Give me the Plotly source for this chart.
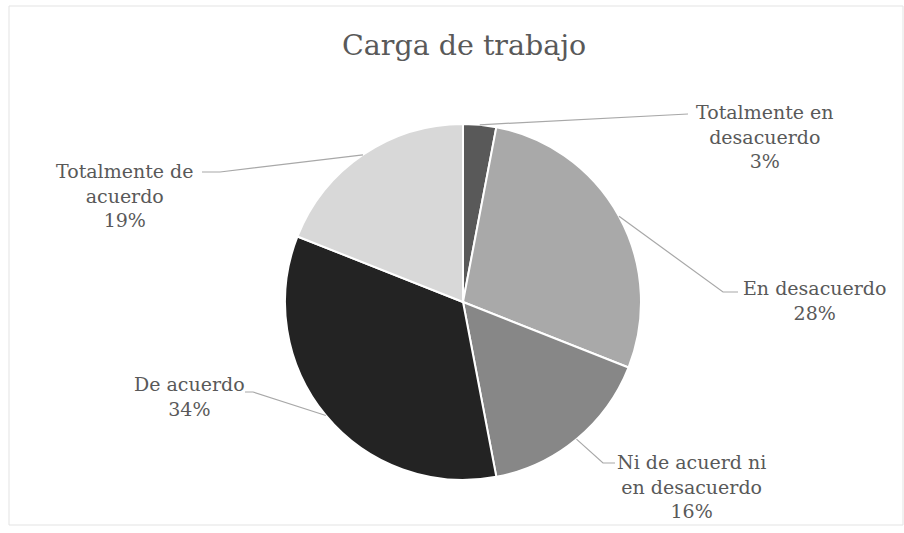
import math
import plotly.graph_objects as go

# Survey answers for "Carga de trabajo" (percent of respondents)
categories = [
    "Totalmente en desacuerdo",
    "En desacuerdo",
    "Ni de acuerd ni en desacuerdo",
    "De acuerdo",
    "Totalmente de acuerdo",
]
values = [3, 28, 16, 34, 19]
label_lines = [
    "Totalmente en<br>desacuerdo",
    "En desacuerdo",
    "Ni de acuerd ni<br>en desacuerdo",
    "De acuerdo",
    "Totalmente de<br>acuerdo",
]
slice_colors = ["#595959", "#a9a9a9", "#878787", "#232323", "#d8d8d8"]

W, H = 904, 533
CX, CY, R = 463, 302, 178  # pie centre and radius in pixels

FONT = "DejaVu Serif"
TEXT_COLOR = "#595959"
LEADER_COLOR = "#a8a8a8"

# Label block centre and leader route (elbow, end) for each slice, in pixels
label_layout = [
    {"text": (765, 137), "elbow": None, "end": (688, 114)},
    {"text": (814, 300), "elbow": (723, 292), "end": (738, 292)},
    {"text": (691, 486), "elbow": (603, 463), "end": (615, 463)},
    {"text": (189, 396), "elbow": (253, 392), "end": (245, 392)},
    {"text": (125, 195), "elbow": (220, 172), "end": (202, 172)},
]


def px(x):
    return x / W


def py(y):
    return 1 - y / H


fig = go.Figure(
    go.Pie(
        labels=categories,
        values=values,
        sort=False,
        direction="clockwise",
        rotation=0,
        marker=dict(colors=slice_colors, line=dict(color="white", width=2)),
        textinfo="none",
        hoverinfo="label+percent",
        showlegend=False,
        domain=dict(x=[px(CX - R), px(CX + R)], y=[py(CY + R), py(CY - R)]),
    )
)

total = sum(values)
annotations = [
    dict(
        text="Carga de trabajo",
        x=px(464), y=py(46), xref="paper", yref="paper",
        showarrow=False, xanchor="center", yanchor="middle",
        font=dict(family=FONT, size=28.5, color=TEXT_COLOR),
    )
]
shapes = [
    dict(type="rect", xref="paper", yref="paper",
         x0=px(9), x1=px(903), y0=py(525), y1=py(6),
         line=dict(color="#e3e3e3", width=1), fillcolor="rgba(0,0,0,0)")
]

cum = 0
for val, text, lay in zip(values, label_lines, label_layout):
    mid = (cum + val / 2) / total * 2 * math.pi
    cum += val
    # point on the pie rim at the slice's mid angle (clockwise from 12 o'clock)
    sx = CX + R * math.sin(mid)
    sy = CY - R * math.cos(mid)
    pts = [(sx, sy)]
    if lay["elbow"] is not None:
        pts.append(lay["elbow"])
    pts.append(lay["end"])
    path = "M " + " L ".join(f"{px(x)},{py(y)}" for x, y in pts)
    shapes.append(dict(type="path", xref="paper", yref="paper", path=path,
                       line=dict(color=LEADER_COLOR, width=1.2)))
    pct = round(val / total * 100)
    tx, ty = lay["text"]
    annotations.append(
        dict(
            text=f"{text}<br>{pct}%",
            x=px(tx), y=py(ty), xref="paper", yref="paper",
            showarrow=False, xanchor="center", yanchor="middle", align="center",
            font=dict(family=FONT, size=19, color=TEXT_COLOR),
        )
    )

fig.update_layout(
    width=W, height=H,
    margin=dict(l=0, r=0, t=0, b=0),
    paper_bgcolor="white", plot_bgcolor="white",
    annotations=annotations, shapes=shapes,
)

fig.write_html("out.html")
